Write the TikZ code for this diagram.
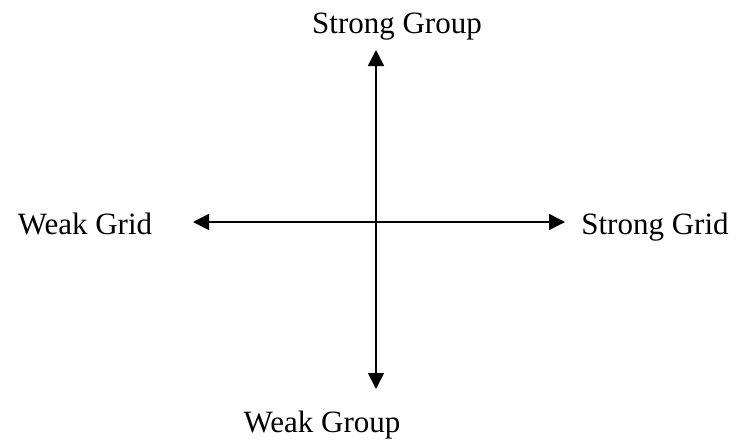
\documentclass[tikz,border=0pt]{standalone}
\usepackage{fontspec}
\setmainfont{Liberation Serif}
\usetikzlibrary{arrows.meta}
\begin{document}
\begin{tikzpicture}[x=1pt,y=-1pt,
  lbl/.style={anchor=base,inner sep=0pt,font=\fontsize{31}{37}\selectfont},
  axis/.style={line width=1.6pt,{Triangle[length=16pt,width=16pt]}-{Triangle[length=16pt,width=16pt]}}]
\useasboundingbox (0,0) rectangle (736,440);
\node[lbl] (sgroup) at (397,33) {Strong Group};
\node[lbl] (wgroup) at (322,432) {Weak Group};
\node[lbl] (wgrid) at (85,234) {Weak Grid};
\node[lbl] (sgrid) at (655,234) {Strong Grid};
\coordinate (top) at (376,50);
\coordinate (bottom) at (376,389);
\coordinate (left) at (193,222);
\coordinate (right) at (565,222);
\draw[axis] (top) -- (bottom);
\draw[axis] (left) -- (right);
\end{tikzpicture}
\end{document}
